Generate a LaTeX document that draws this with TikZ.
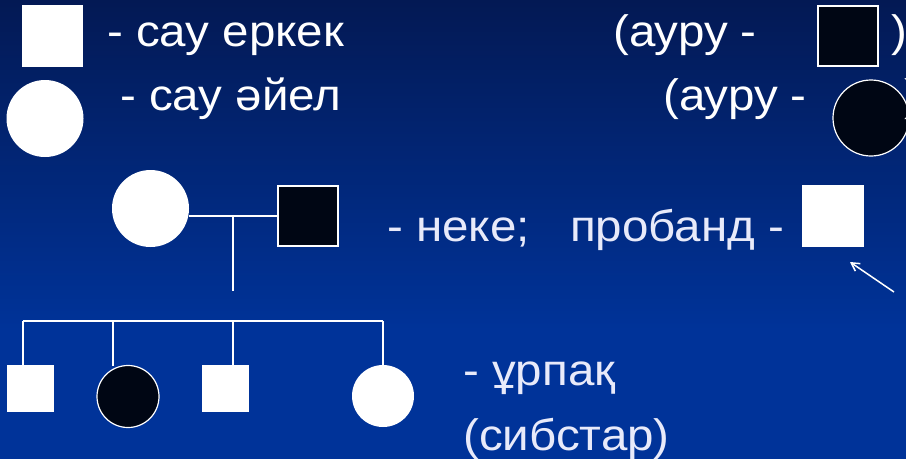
\documentclass[tikz,border=0pt]{standalone}
\usepackage{fontspec}
\setmainfont{Liberation Sans}[FakeStretch=1.08]
\usetikzlibrary{arrows.meta}
\begin{document}
\begin{tikzpicture}[x=1pt,y=-1pt,
  lbl/.style={anchor=base west,inner sep=0pt,text=white,font=\fontsize{44}{50}\selectfont},
  lbl2/.style={lbl,text=lav},
  wsq/.style={rectangle,fill=white,draw=none,inner sep=0pt},
  bsq/.style={rectangle,fill=ink,draw=white,line width=1.2pt,inner sep=0pt},
  wci/.style={circle,fill=white,draw=none,inner sep=0pt},
  bci/.style={circle,fill=ink,draw=white,line width=1.2pt,inner sep=0pt},
  ln/.style={draw=white,line width=1.4pt},
  ]
\definecolor{bgtop}{RGB}{3,25,84}
\definecolor{bgbot}{RGB}{0,51,153}
\definecolor{ink}{RGB}{0,6,20}
\definecolor{lav}{RGB}{232,234,250}
\useasboundingbox (0,0) rectangle (906,459);
\shade[top color=bgtop,bottom color=bgbot] (0,0) rectangle (906,330);
\fill[bgbot] (0,329) rectangle (906,459);
\begin{scope}
\clip (0,0) rectangle (906,459);
% legend
\node[wsq,minimum width=61pt,minimum height=62pt] (legM) at (52.5,36) {};
\node[lbl] (tM) at (107,46) {- сау еркек};
\node[wci,minimum size=77pt] (legF) at (45,118.5) {};
\node[lbl] (tF) at (120,110) {- сау әйел};
\node[lbl] (tMa) at (613,46) {(ауру -};
\node[bsq,minimum width=60pt,minimum height=60pt] (legMa) at (848,36) {};
\node[lbl] (pMa) at (891,46) {)};
\node[lbl] (tFa) at (663,110) {(ауру -};
\node[bci,minimum size=76pt] (legFa) at (871,118) {};
\node[lbl] (pFa) at (904,110) {)};
% parents
\node[wci,minimum size=77pt] (mother) at (150.5,208.5) {};
\node[bsq,minimum width=60pt,minimum height=60pt] (father) at (308,216) {};
\coordinate (mid) at (233,216);
\coordinate (stemEnd) at (233,291);
\draw[ln] (father.west) -- (father.west -| mother.east);
\draw[ln] (mid) -- (stemEnd);
\node[lbl2] (tNeke) at (387,241) {- неке;};
\node[lbl2] (tProb) at (570,241) {пробанд -};
\node[wsq,minimum width=62pt,minimum height=62pt] (proband) at (833,216) {};
\coordinate (arrTail) at (894,292);
\coordinate (arrTip) at (850,262);
\draw[ln,line width=1.5pt,-{Straight Barb[length=8pt,width=9pt]}] (arrTail) -- (arrTip);
% sibship
\node[wsq,minimum width=47pt,minimum height=47pt] (cA) at (30.5,388.5) {};
\node[bci,minimum size=62pt] (cB) at (128,396.5) {};
\node[wsq,minimum width=47pt,minimum height=47pt] (cC) at (225.5,388.5) {};
\node[wci,minimum size=62pt] (cD) at (383,396) {};
\coordinate (dA) at (23,321);
\coordinate (dB) at (113,321);
\coordinate (dC) at (233,321);
\coordinate (dD) at (383,321);
\draw[ln] (dA) -- (dD);
\draw[ln] (dA) -- (dA |- cA.north);
\draw[ln] (dB) -- (113,366);
\draw[ln] (dC) -- (dC |- cC.north);
\draw[ln] (dD) -- (cD.north);
\node[lbl2] (tU) at (463,385) {- ұрпақ};
\node[lbl2] (tS) at (463,450) {(сибстар)};
\end{scope}
\end{tikzpicture}
\end{document}
